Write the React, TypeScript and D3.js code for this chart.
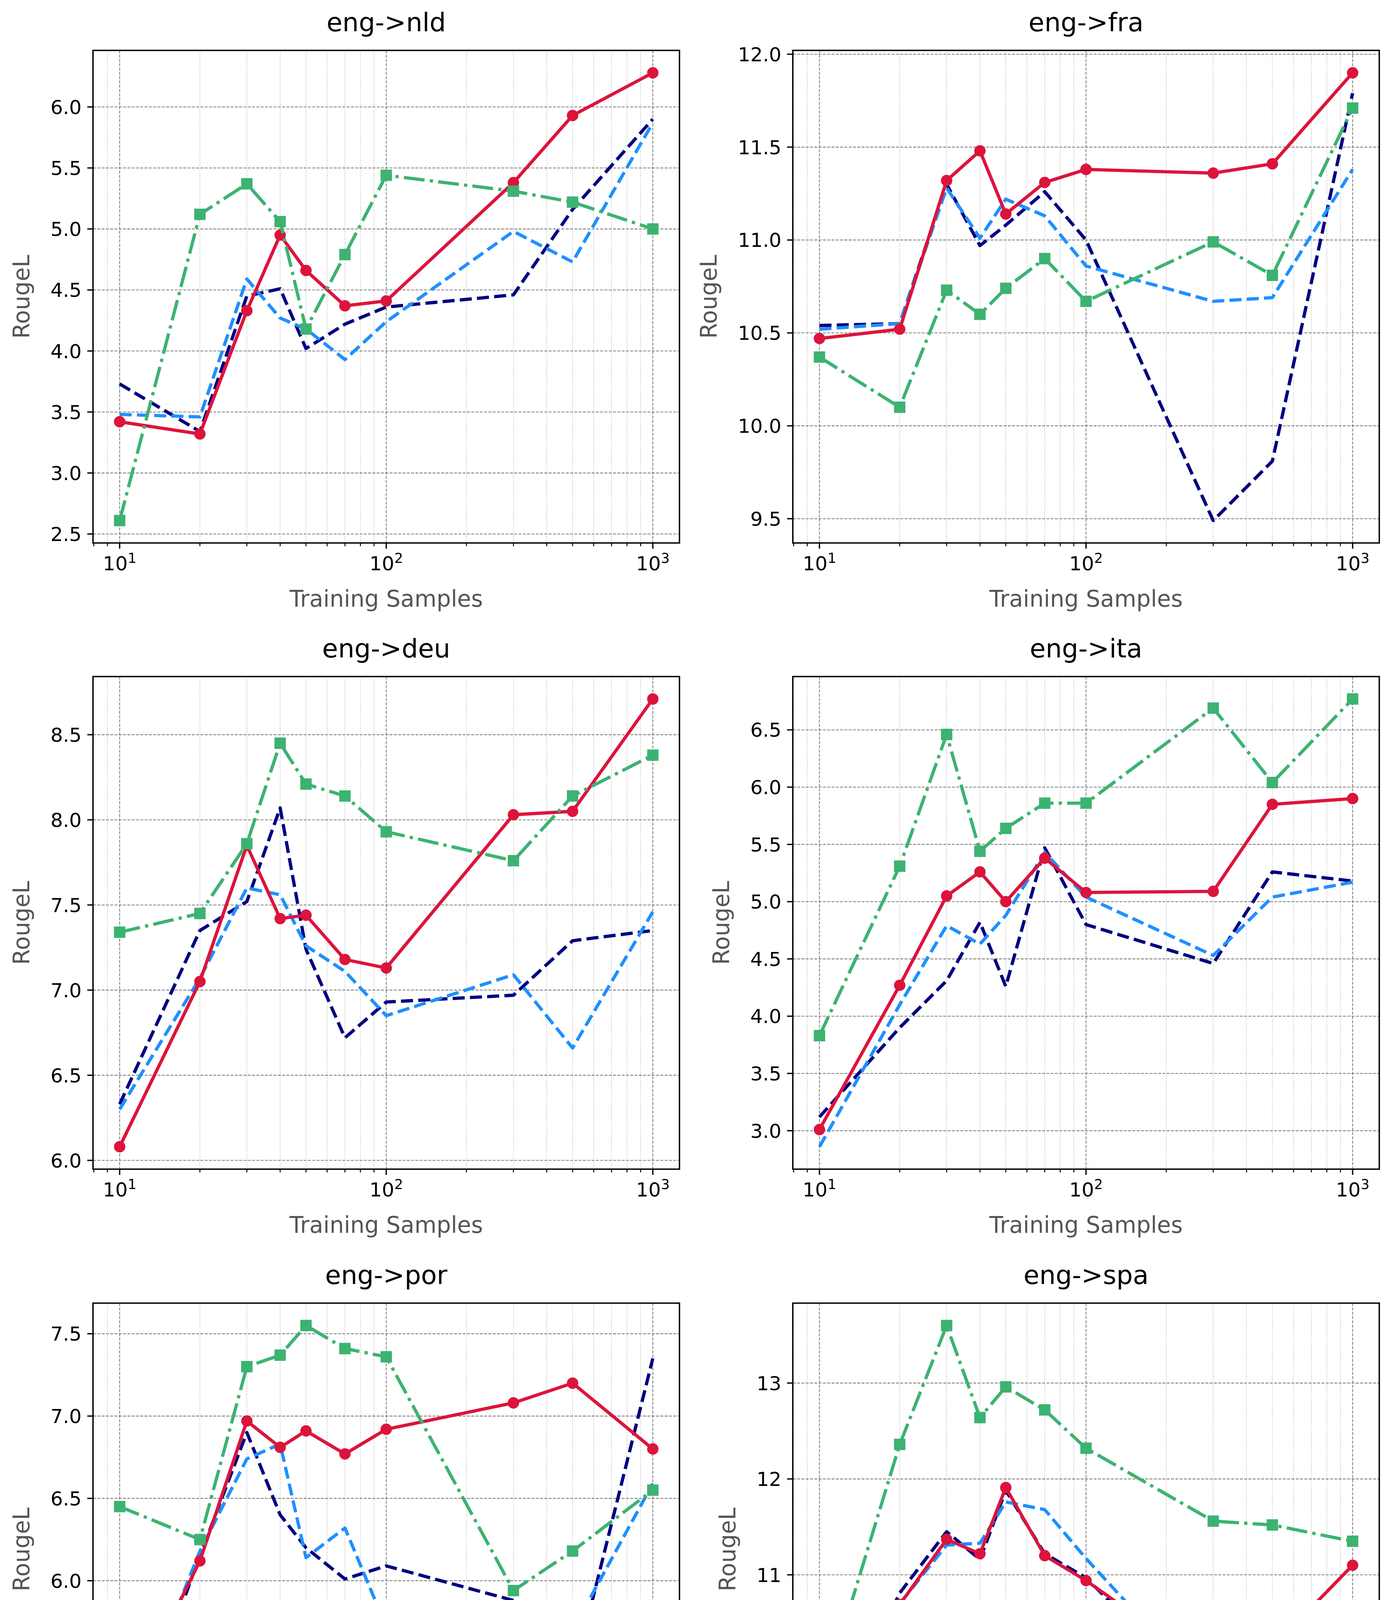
import React, { useEffect } from "react";
import * as d3 from "d3";

// ---------- data ----------
const samples = [10, 20, 30, 40, 50, 70, 100, 300, 500, 1000];
const xMajorTicks = [10, 100, 1000];

const panelTitles = ["eng->nld", "eng->fra", "eng->deu", "eng->ita", "eng->por", "eng->spa"];

const nldRef0 = [3.73, 3.34, 4.45, 4.51, 4.02, 4.22, 4.36, 4.46, 5.16, 5.9];
const nldRef001 = [3.48, 3.46, 4.59, 4.27, 4.18, 3.93, 4.24, 4.98, 4.73, 5.87];
const nldIneq = [3.42, 3.32, 4.33, 4.95, 4.66, 4.37, 4.41, 5.38, 5.93, 6.28];
const nldTV = [2.61, 5.12, 5.37, 5.06, 4.18, 4.79, 5.44, 5.31, 5.22, 5.0];

const fraRef0 = [10.54, 10.55, 11.3, 10.97, 11.08, 11.26, 11.0, 9.49, 9.81, 11.79];
const fraRef001 = [10.52, 10.55, 11.28, 11.01, 11.22, 11.13, 10.86, 10.67, 10.69, 11.38];
const fraIneq = [10.47, 10.52, 11.32, 11.48, 11.14, 11.31, 11.38, 11.36, 11.41, 11.9];
const fraTV = [10.37, 10.1, 10.73, 10.6, 10.74, 10.9, 10.67, 10.99, 10.81, 11.71];

const deuRef0 = [6.33, 7.35, 7.52, 8.07, 7.24, 6.72, 6.93, 6.97, 7.29, 7.35];
const deuRef001 = [6.3, 7.07, 7.6, 7.56, 7.26, 7.11, 6.85, 7.09, 6.66, 7.46];
const deuIneq = [6.08, 7.05, 7.85, 7.42, 7.44, 7.18, 7.13, 8.03, 8.05, 8.71];
const deuTV = [7.34, 7.45, 7.86, 8.45, 8.21, 8.14, 7.93, 7.76, 8.14, 8.38];

const itaRef0 = [3.12, 3.9, 4.31, 4.82, 4.26, 5.47, 4.8, 4.46, 5.26, 5.18];
const itaRef001 = [2.86, 4.1, 4.79, 4.63, 4.88, 5.43, 5.04, 4.53, 5.04, 5.17];
const itaIneq = [3.01, 4.27, 5.05, 5.26, 5.0, 5.38, 5.08, 5.09, 5.85, 5.9];
const itaTV = [3.83, 5.31, 6.46, 5.44, 5.64, 5.86, 5.86, 6.69, 6.04, 6.77];

const porRef0 = [4.83, 6.15, 6.9, 6.4, 6.2, 6.01, 6.09, 5.88, 5.4, 7.35];
const porRef001 = [4.96, 6.18, 6.74, 6.83, 6.14, 6.32, 5.72, 5.31, 5.7, 6.59];
const porIneq = [5.13, 6.12, 6.97, 6.81, 6.91, 6.77, 6.92, 7.08, 7.2, 6.8];
const porTV = [6.45, 6.25, 7.3, 7.37, 7.55, 7.41, 7.36, 5.94, 6.18, 6.55];

const spaRef0 = [9.02, 10.81, 11.45, 11.16, 11.88, 11.22, 10.97, 9.64, 9.88, 10.66];
const spaRef001 = [8.93, 10.7, 11.31, 11.33, 11.76, 11.68, 11.17, 9.73, 10.04, 10.36];
const spaIneq = [9.03, 10.69, 11.37, 11.22, 11.91, 11.2, 10.94, 10.0, 10.24, 11.1];
const spaTV = [9.62, 12.36, 13.6, 12.64, 12.96, 12.72, 12.32, 11.56, 11.52, 11.35];

const nldTicks = [2.5, 3, 3.5, 4, 4.5, 5, 5.5, 6];
const fraTicks = [9.5, 10, 10.5, 11, 11.5, 12];
const deuTicks = [6, 6.5, 7, 7.5, 8, 8.5];
const itaTicks = [3, 3.5, 4, 4.5, 5, 5.5, 6, 6.5];
const porTicks = [5, 5.5, 6, 6.5, 7, 7.5];
const spaTicks = [9, 10, 11, 12, 13];

const seriesLabels = [
  "Reference (λ=0)",
  "Reference (λ=0.01)",
  "Ours: Inequality (λ=0.01, ε=0.01)",
  "Ours: Totalvariation (λ=0.01, η=0.01)",
];

// ---------- styles ----------
const FONT = "'DejaVu Sans', 'Liberation Sans', sans-serif";
const PT = 300 / 72;
const LW = 2 * PT;
const seriesStyles = [
  { color: "#000080", dash: `${3.7 * LW},${1.6 * LW}`, marker: null },
  { color: "#1e90ff", dash: `${3.7 * LW},${1.6 * LW}`, marker: null },
  { color: "#dc143c", dash: null, marker: "circle" },
  { color: "#3cb371", dash: `${6.4 * LW},${1.6 * LW},${1 * LW},${1.6 * LW}`, marker: "square" },
];

const panels = [
  { title: panelTitles[0], data: [nldRef0, nldRef001, nldIneq, nldTV], ticks: nldTicks },
  { title: panelTitles[1], data: [fraRef0, fraRef001, fraIneq, fraTV], ticks: fraTicks },
  { title: panelTitles[2], data: [deuRef0, deuRef001, deuIneq, deuTV], ticks: deuTicks },
  { title: panelTitles[3], data: [itaRef0, itaRef001, itaIneq, itaTV], ticks: itaTicks },
  { title: panelTitles[4], data: [porRef0, porRef001, porIneq, porTV], ticks: porTicks },
  { title: panelTitles[5], data: [spaRef0, spaRef001, spaIneq, spaTV], ticks: spaTicks },
];

// ---------- layout ----------
const FIG_W = 3560;
const FIG_H = 5106;
const COL_X = [238, 2029];
const ROW_Y = [129, 1732, 3336];
const AX_W = 1501;
const AX_H = 1261;
const TICK_FS = 50;
const LABEL_FS = 58;
const TITLE_FS = 66;
const MS = 6 * PT;
const MEW = 1 * PT;

function textWidthEm(s: string) {
  let w = 0;
  for (const c of s) w += c === "." ? 0.318 : 0.636;
  return w;
}

function Marker({ type, x, y, color }: { type: string | null; x: number; y: number; color: string }) {
  if (type === "circle") return <circle cx={x} cy={y} r={MS / 2} fill={color} stroke={color} strokeWidth={MEW} />;
  if (type === "square")
    return <rect x={x - MS / 2} y={y - MS / 2} width={MS} height={MS} fill={color} stroke={color} strokeWidth={MEW} strokeLinejoin="miter" />;
  return null;
}

function Panel({ p, i }: { p: (typeof panels)[number]; i: number }) {
  const left = COL_X[i % 2];
  const top = ROW_Y[Math.floor(i / 2)];

  const lx0 = Math.log10(d3.min(samples)!);
  const lx1 = Math.log10(d3.max(samples)!);
  const px = (lx1 - lx0) * 0.05;
  const x = d3.scaleLog().domain([10 ** (lx0 - px), 10 ** (lx1 + px)]).range([0, AX_W]);

  const all = p.data.flat();
  const y0 = d3.min(all)!;
  const y1 = d3.max(all)!;
  const py = (y1 - y0) * 0.05;
  const y = d3.scaleLinear().domain([y0 - py, y1 + py]).range([AX_H, 0]);

  const step = p.ticks[1] - p.ticks[0];
  const fmt = d3.format(step < 1 ? ".1f" : "d");
  const tickLabels = p.ticks.map((t) => fmt(t));
  const maxW = d3.max(tickLabels, (s) => textWidthEm(s))! * TICK_FS;

  const [dLo, dHi] = x.domain();
  const minor: number[] = [];
  for (let e = 0; e <= 4; e++)
    for (let k = 2; k <= 9; k++) {
      const v = k * 10 ** e;
      if (v >= dLo && v <= dHi) minor.push(v);
    }

  const line = d3
    .line<number>()
    .x((_, j) => x(samples[j]))
    .y((v) => y(v));

  const ylabCenter = -(maxW + 97.5);

  return (
    <g transform={`translate(${left},${top})`}>
      {/* minor grid */}
      {minor.map((v) => (
        <line key={"mg" + v} x1={x(v)} x2={x(v)} y1={0} y2={AX_H} stroke="#9a9a9a" strokeWidth={1.4} strokeDasharray="2,3.5" />
      ))}
      {/* major grid */}
      {xMajorTicks.map((v) => (
        <line key={"Mgx" + v} x1={x(v)} x2={x(v)} y1={0} y2={AX_H} stroke="#808080" strokeWidth={2.1} strokeDasharray="7.7,3.3" />
      ))}
      {p.ticks.map((t) => (
        <line key={"Mgy" + t} x1={0} x2={AX_W} y1={y(t)} y2={y(t)} stroke="#808080" strokeWidth={2.1} strokeDasharray="7.7,3.3" />
      ))}

      {/* series */}
      {p.data.map((vals, s) => {
        const st = seriesStyles[s];
        return (
          <g key={"s" + s}>
            <path
              d={line(vals) || ""}
              fill="none"
              stroke={st.color}
              strokeWidth={LW}
              strokeDasharray={st.dash || undefined}
              strokeLinejoin="round"
              strokeLinecap={st.dash ? "butt" : "square"}
            />
            {st.marker &&
              vals.map((v, j) => <Marker key={j} type={st.marker} x={x(samples[j])} y={y(v)} color={st.color} />)}
          </g>
        );
      })}

      {/* spines */}
      <rect x={0} y={0} width={AX_W} height={AX_H} fill="none" stroke="#000" strokeWidth={3.5} />

      {/* x ticks */}
      {minor.map((v) => (
        <line key={"mt" + v} x1={x(v)} x2={x(v)} y1={AX_H} y2={AX_H + 2 * PT} stroke="#000" strokeWidth={0.6 * PT} />
      ))}
      {xMajorTicks.map((v) => (
        <g key={"xt" + v}>
          <line x1={x(v)} x2={x(v)} y1={AX_H} y2={AX_H + 3.5 * PT} stroke="#000" strokeWidth={0.8 * PT} />
          <text x={x(v)} y={AX_H + 70} textAnchor="middle" fontFamily={FONT} fontSize={TICK_FS} fill="#000">
            10
            <tspan dy={-19} fontSize={TICK_FS * 0.7}>
              {String(Math.round(Math.log10(v)))}
            </tspan>
          </text>
        </g>
      ))}

      {/* y ticks */}
      {p.ticks.map((t, k) => (
        <g key={"yt" + t}>
          <line x1={0} x2={-3.5 * PT} y1={y(t)} y2={y(t)} stroke="#000" strokeWidth={0.8 * PT} />
          <text x={-3.5 * PT - 3.5 * PT} y={y(t)} dy="0.36em" textAnchor="end" fontFamily={FONT} fontSize={TICK_FS} fill="#000">
            {tickLabels[k]}
          </text>
        </g>
      ))}

      {/* labels */}
      <text x={AX_W / 2} y={-49} textAnchor="middle" fontFamily={FONT} fontSize={TITLE_FS} fill="#000">
        {p.title}
      </text>
      <text x={AX_W / 2} y={AX_H + 163} textAnchor="middle" fontFamily={FONT} fontSize={LABEL_FS} fill="#555555">
        Training Samples
      </text>
      <text
        transform={`translate(${ylabCenter + 14},${AX_H / 2}) rotate(-90)`}
        textAnchor="middle"
        fontFamily={FONT}
        fontSize={LABEL_FS}
        fill="#555555"
      >
        RougeL
      </text>
    </g>
  );
}

function Legend() {
  const boxX = 700;
  const boxY = 4886;
  const boxW = 2150;
  const boxH = 190;
  const rowsY = [4934, 5020];
  const colsX = [723, 1582];
  const hl = 117;
  return (
    <g>
      <rect x={boxX} y={boxY} width={boxW} height={boxH} rx={12} ry={12} fill="#fff" stroke="#000" strokeWidth={2.5} />
      {seriesLabels.map((lab, s) => {
        const st = seriesStyles[s];
        const cx = colsX[Math.floor(s / 2)];
        const cy = rowsY[s % 2];
        return (
          <g key={"lg" + s}>
            <line x1={cx} x2={cx + hl} y1={cy} y2={cy} stroke={st.color} strokeWidth={LW} strokeDasharray={st.dash || undefined} strokeLinecap="butt" />
            {st.marker && <Marker type={st.marker} x={cx + hl / 2} y={cy} color={st.color} />}
            <text x={cx + hl + 47} y={cy + 22} fontFamily={FONT} fontSize={LABEL_FS} fill="#000">
              {lab}
            </text>
          </g>
        );
      })}
    </g>
  );
}

export default function App() {
  useEffect(() => {
    document.body.style.margin = "0";
    document.body.style.padding = "0";
  }, []);
  return (
    <div style={{ width: FIG_W, height: FIG_H, overflow: "hidden", background: "#fff" }}>
      <svg width={FIG_W} height={FIG_H} viewBox={`0 0 ${FIG_W} ${FIG_H}`} style={{ display: "block" }}>
        <rect x={0} y={0} width={FIG_W} height={FIG_H} fill="#fff" />
        {panels.map((p, i) => (
          <Panel key={p.title} p={p} i={i} />
        ))}
        <Legend />
      </svg>
    </div>
  );
}
